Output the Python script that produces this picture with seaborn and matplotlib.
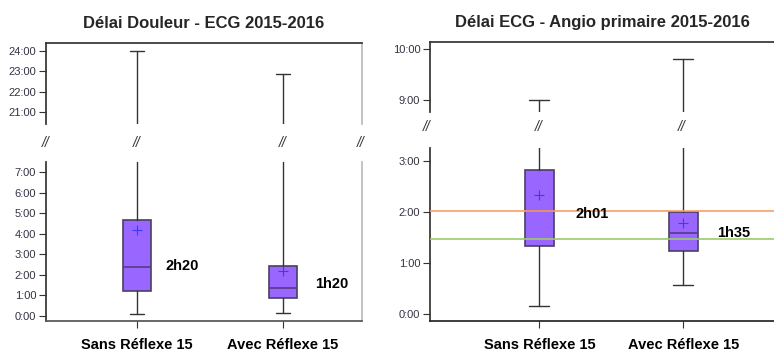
import numpy as np
import matplotlib
matplotlib.use("Agg")
import matplotlib.pyplot as plt
import seaborn as sns

# categories
groups = ["Sans Réflexe 15", "Avec Réflexe 15"]

# Délai Douleur - ECG (hours)
de_low = [0.07, 0.12]
de_q1 = [1.19, 0.88]
de_med = [2.36, 1.34]
de_q3 = [4.65, 2.41]
de_high = [24.0, 22.84]
de_mean = [4.17, 2.20]
de_labels = ["2h20", "1h20"]

# Délai ECG - Angio primaire (hours)
ea_low = [0.16, 0.57]
ea_q1 = [1.33, 1.23]
ea_med = [2.017, 1.583]
ea_q3 = [2.83, 2.00]
ea_high = [9.00, 9.80]
ea_mean = [2.34, 1.79]
ea_labels = ["2h01", "1h35"]

# reference lines on the right panel
ref_values = [2.017, 1.47]
ref_colors = ["#F5A064", "#9CCB6B"]

BOX = "#9966FF"
EDGE = "#4A4060"
MED = "#5B3F8E"
TXT = "#333344"

sns.set_theme(style="ticks")
plt.rcParams['font.family'] = ['Liberation Sans', 'DejaVu Sans']

W, H = 774, 354
fig = plt.figure(figsize=(W / 100, H / 100), dpi=100)


def px_axes(x0, x1, y0, y1):
    return fig.add_axes([x0 / W, 1 - y1 / H, (x1 - x0) / W, (y1 - y0) / H])


def hfmt(v, pos=None):
    h = int(round(v * 60)) // 60
    m = int(round(v * 60)) % 60
    return f"{h}:{m:02d}"


def make_stats(low, q1, med, q3, high, mean):
    return [dict(whislo=low[i], q1=q1[i], med=med[i], q3=q3[i], whishi=high[i],
                 mean=mean[i], fliers=[]) for i in range(len(groups))]


def draw(ax, stats, width, capw):
    ax.bxp(stats, positions=[1, 2], widths=width, capwidths=capw,
           showmeans=True, patch_artist=True,
           boxprops=dict(facecolor=BOX, edgecolor=EDGE, linewidth=1.2),
           medianprops=dict(color=MED, linewidth=1.3),
           whiskerprops=dict(color="#333333", linewidth=1),
           capprops=dict(color="#333333", linewidth=1),
           meanprops=dict(marker="+", markeredgecolor="#3A3AFF", markersize=7,
                          markeredgewidth=0.8))


def style_y(ax, ticks):
    ax.set_yticks(ticks)
    ax.yaxis.set_major_formatter(plt.FuncFormatter(hfmt))
    ax.tick_params(axis="y", length=5, width=0.8, color="#333333",
                   labelsize=8, labelcolor=TXT, pad=2)
    ax.spines["left"].set_color("#333333")


# ---------------- left panel ----------------
l_top = px_axes(46, 362, 43, 124)
l_bot = px_axes(46, 362, 162, 321)
st = make_stats(de_low, de_q1, de_med, de_q3, de_high, de_mean)
for ax in (l_top, l_bot):
    draw(ax, st, 0.19, 0.095)
    ax.set_xlim(0.38, 2.54)
    ax.set_facecolor("white")
l_top.set_ylim(20.41, 24.38)
l_bot.set_ylim(-0.26, 7.5)
style_y(l_top, [21, 22, 23, 24])
style_y(l_bot, np.arange(0, 8))
sns.despine(ax=l_top, top=False, right=False, bottom=True)
sns.despine(ax=l_bot, top=True, right=False)
l_top.spines["top"].set_color("#333333")
l_top.spines["right"].set_color("#BBBBBB")
l_bot.spines["right"].set_color("#BBBBBB")
l_bot.spines["bottom"].set_color("#555555")
l_top.set_xticks([])
for i, lab in enumerate(de_labels):
    l_bot.text(1.31 + i * 1.02, [2.44, 1.53][i], lab, fontsize=10.5,
               fontweight="bold", ha="center", va="center", color="black")
l_top.set_title("Délai Douleur - ECG 2015-2016", fontsize=12, fontweight="bold",
                pad=11)

# ---------------- right panel ----------------
r_top = px_axes(430, 774, 42, 112)
r_bot = px_axes(430, 774, 148, 321)
st = make_stats(ea_low, ea_q1, ea_med, ea_q3, ea_high, ea_mean)
for ax in (r_top, r_bot):
    draw(ax, st, 0.2, 0.14)
    ax.set_xlim(0.24, 2.63)
r_top.set_ylim(8.76, 10.14)
r_bot.set_ylim(-0.14, 3.26)
style_y(r_top, [9, 10])
style_y(r_bot, [0, 1, 2, 3])
sns.despine(ax=r_top, top=False, right=True, bottom=True)
sns.despine(ax=r_bot, top=True, right=True)
r_top.spines["top"].set_color("#333333")
r_top.set_xticks([])
for v, c in zip(ref_values, ref_colors):
    r_bot.axhline(v, color=c, linewidth=1.2, zorder=5)
for i, lab in enumerate(ea_labels):
    r_bot.text([1.364, 2.35][i], [1.96, 1.58][i], lab, fontsize=10.5,
               fontweight="bold", ha="center", va="center", color="black",
               zorder=6)
r_top.set_title("Délai ECG - Angio primaire 2015-2016", fontsize=12,
                fontweight="bold", pad=11)

# x axis labels
for ax in (l_bot, r_bot):
    ax.set_xticks([1, 2])
    ax.set_xticklabels(groups, fontsize=10.5, fontweight="bold", color="black")
    ax.tick_params(axis="x", length=5, width=0.8, color="#333333", pad=7)

# axis break marks
for x in [46, 137, 283, 361]:
    fig.text(x / W, 1 - 143 / H, "//", fontsize=10, style="italic",
             ha="center", va="center", color="#333333")
for x in [427, 539, 682]:
    fig.text(x / W, 1 - 127 / H, "//", fontsize=10, style="italic",
             ha="center", va="center", color="#333333")

fig.savefig("out.png", dpi=100, facecolor="white")
